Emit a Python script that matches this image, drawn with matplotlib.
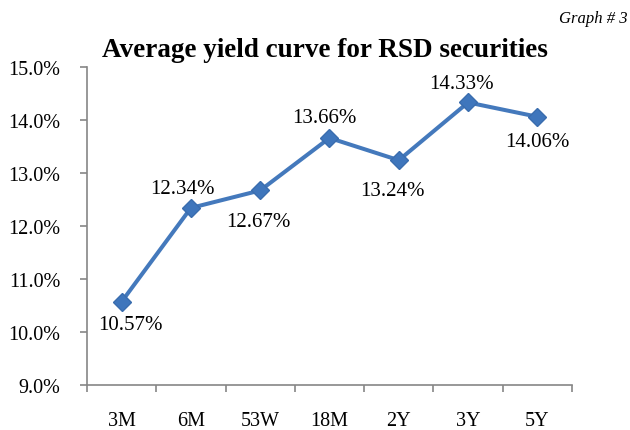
import matplotlib.pyplot as plt
import numpy as np
from matplotlib.ticker import FuncFormatter, FixedLocator

plt.rcParams['font.family'] = ['Liberation Serif', 'DejaVu Serif']

maturities = ["3M", "6M", "53W", "18M", "2Y", "3Y", "5Y"]
yields = [10.57, 12.34, 12.67, 13.66, 13.24, 14.33, 14.06]

# where each data label sits relative to its point (offset points)
label_offsets = [(6, -16.5), (-6, 14), (-1.5, -22), (-3.5, 14.5),
                 (-4.5, -21.5), (-4.5, 13.5), (0, -18)]

fig = plt.figure(figsize=(6.3, 4.31), dpi=100)
ax = fig.add_axes([0.138, 0.1044, 0.770, 0.738])

x = np.arange(len(maturities))
ax.plot(x, yields, color="#4479BC", linewidth=2.9, marker="D", markersize=9.5,
        markerfacecolor="#3F76BC", markeredgecolor="#3A6DAE", zorder=3)

for xi, yi, off in zip(x, yields, label_offsets):
    ax.annotate(f"{yi:.2f}%", (xi, yi), xytext=off, textcoords="offset points",
                ha="center", va="center", fontsize=15)

ax.set_xlim(-0.5, len(maturities) - 0.5)
ax.set_ylim(9, 15)
ax.set_yticks(np.arange(9, 15.01, 1))
ax.yaxis.set_major_formatter(FuncFormatter(lambda v, p: f"{v:.1f}%"))
ax.set_xticks(x)
ax.set_xticklabels(maturities)
ax.xaxis.set_minor_locator(FixedLocator(np.arange(-0.5, len(maturities), 1)))
ax.tick_params(axis="x", which="major", length=0, pad=19, labelsize=14.5)
ax.tick_params(axis="x", which="minor", length=5, width=1.2, color="#868686", direction="out")
ax.tick_params(axis="y", length=5, width=1.2, color="#868686", labelsize=14.5, pad=14)

for s in ["top", "right"]:
    ax.spines[s].set_visible(False)
for s in ["left", "bottom"]:
    ax.spines[s].set_color("#868686")
    ax.spines[s].set_linewidth(1.2)

fig.text(0.516, 0.8666, "Average yield curve for RSD securities", ha="center", va="baseline",
         fontsize=19.5, fontweight="bold")
fig.text(0.997, 0.955, "Graph # 3", ha="right", va="center", fontsize=12, style="italic")

fig.savefig("out.png", dpi=100)
